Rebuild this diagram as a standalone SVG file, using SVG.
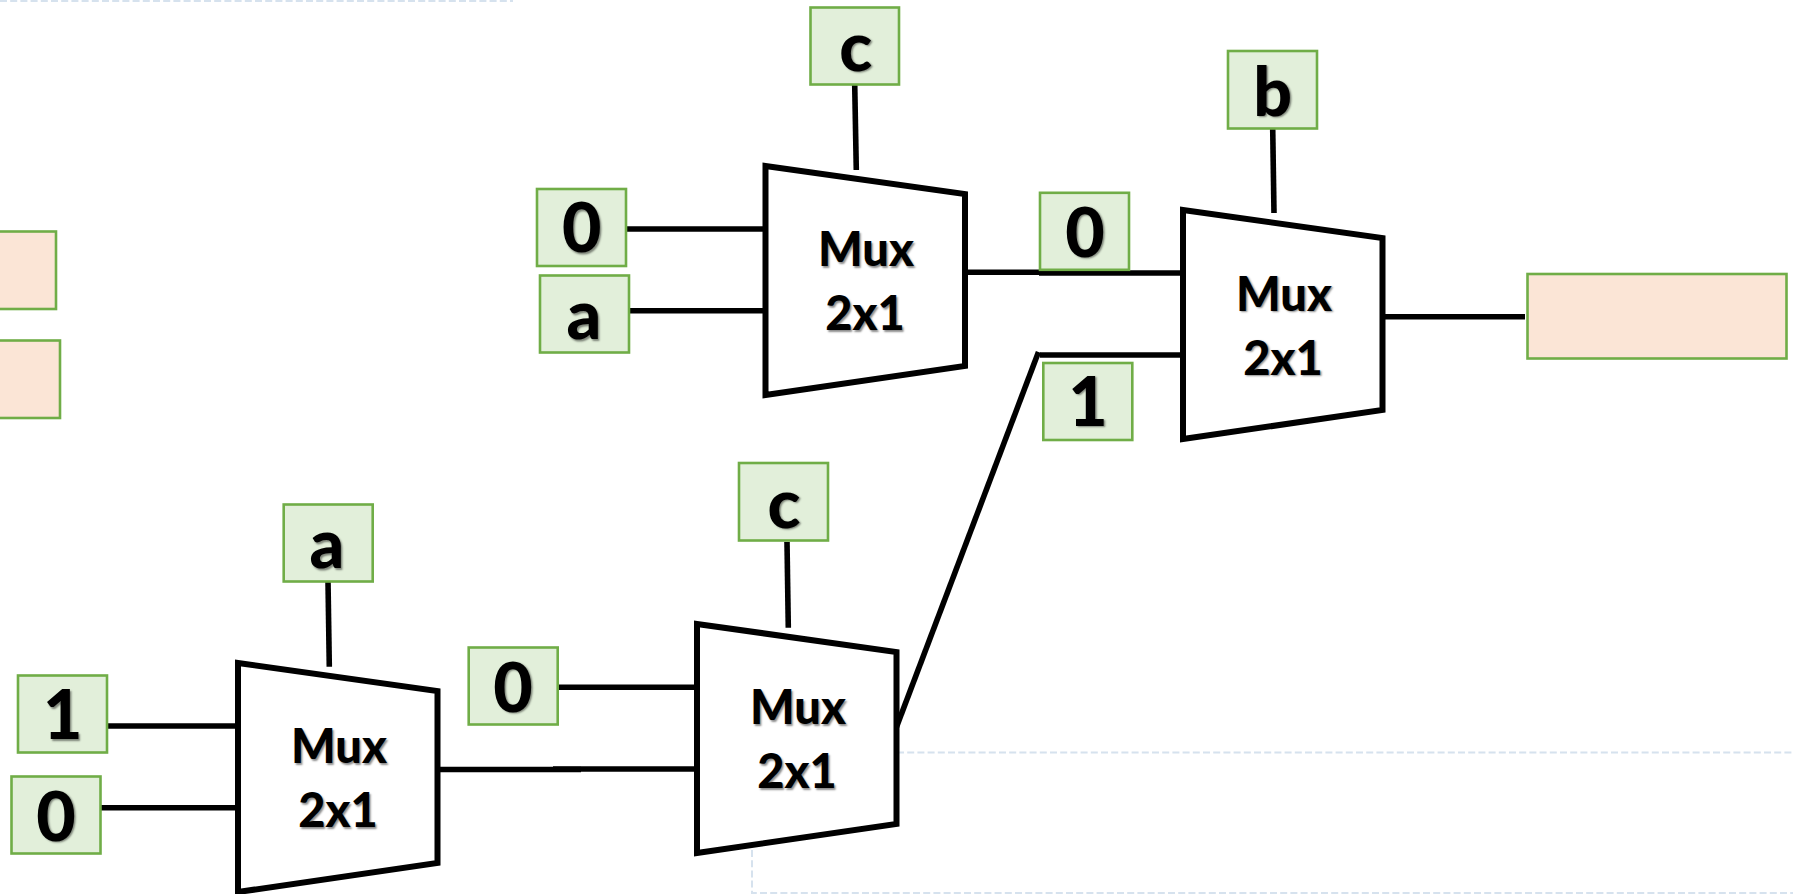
<svg xmlns="http://www.w3.org/2000/svg" width="1793" height="894" viewBox="0 0 1793 894">
  <style>
    .bg { fill: #ffffff; }
    .dash { fill: none; stroke: #D6E2EE; stroke-width: 2; stroke-dasharray: 7 3.2; }
    .in { fill: #E2EFDA; stroke: #70AD47; stroke-width: 2.6; }
    .out { fill: #FBE5D6; stroke: #70AD47; stroke-width: 2.6; }
    .mux { fill: #ffffff; stroke: #000000; stroke-width: 6; stroke-linejoin: miter; }
    .wire { fill: none; stroke: #000000; stroke-width: 5.6; stroke-linecap: butt; }
    text { font-family: Lato, "Liberation Sans", sans-serif; font-weight: 900; fill: #000000; text-anchor: middle; text-shadow: 1.5px 1.5px 2px rgba(0,0,0,0.45); }
    .big { font-size: 68px; }
    .small { font-size: 47px; }
  </style>
  <rect class="bg" x="0" y="0" width="1793" height="894"/>
  <g id="frame">
    <path class="dash" d="M0 1H513"/>
    <path class="dash" d="M897 752.5H1793"/>
    <path class="dash" d="M752 850V893H1793"/>
  </g>
  <g id="connectors">
    <path class="wire" d="M854.7 84L856.3 170"/>
    <path class="wire" d="M627 229H766"/>
    <path class="wire" d="M630 310.7H766"/>
    <path class="wire" d="M967 272.3H1108"/>
    <path class="wire" d="M1039 273H1183"/>
    <path class="wire" d="M1040 355H1183"/>
    <path class="wire" d="M896.5 727L1038.5 352"/>
    <path class="wire" d="M1272.7 128L1274 213"/>
    <path class="wire" d="M1385 316.7H1525"/>
    <path class="wire" d="M328 581L329.3 666.7"/>
    <path class="wire" d="M108 726H238"/>
    <path class="wire" d="M101 807.7H238"/>
    <path class="wire" d="M440 769.5H581"/>
    <path class="wire" d="M553 769H697"/>
    <path class="wire" d="M559 687.3H697"/>
    <path class="wire" d="M787 542L788.3 627.7"/>
  </g>
  <g id="mux-top"><polygon class="mux" points="765.5,166 965,194 965,366 765.5,395"/><text class="small" x="866" y="266">Mux</text><text class="small" x="865" y="330">2x1</text></g>
  <g id="mux-right"><polygon class="mux" points="1183,210 1382.5,238 1382.5,410 1183,439"/><text class="small" x="1284" y="310.5">Mux</text><text class="small" x="1283" y="374.5">2x1</text></g>
  <g id="mux-left"><polygon class="mux" points="238,663 437.5,691 437.5,863 238,892"/><text class="small" x="339" y="763">Mux</text><text class="small" x="338" y="827">2x1</text></g>
  <g id="mux-mid"><polygon class="mux" points="697,624 896.5,652 896.5,824 697,853"/><text class="small" x="798" y="724">Mux</text><text class="small" x="797" y="788">2x1</text></g>
  <g id="input-c-top"><rect class="in" x="810.5" y="7.5" width="88.5" height="77"/><text class="big" x="855.7" y="70.7">c</text></g>
  <g id="input-0-top"><rect class="in" x="537" y="189" width="89" height="77"/><text class="big" x="581.7" y="252">0</text></g>
  <g id="input-a-top"><rect class="in" x="540" y="275.5" width="89" height="77"/><text class="big" x="584" y="339">a</text></g>
  <g id="input-b"><rect class="in" x="1228" y="51" width="89" height="77.5"/><text class="big" x="1272.7" y="115.7">b</text></g>
  <g id="input-0-right"><rect class="in" x="1040" y="192.8" width="89" height="77"/><text class="big" x="1085" y="256.7">0</text></g>
  <g id="input-1-right"><rect class="in" x="1043.3" y="363" width="89" height="77"/><text class="big" x="1088" y="425.7">1</text></g>
  <g id="input-a-left"><rect class="in" x="283.7" y="504.5" width="89" height="77"/><text class="big" x="327" y="568">a</text></g>
  <g id="input-1-left"><rect class="in" x="18" y="675.5" width="89" height="77"/><text class="big" x="62.7" y="739">1</text></g>
  <g id="input-0-left"><rect class="in" x="11.5" y="776.5" width="89" height="77"/><text class="big" x="56" y="840.7">0</text></g>
  <g id="input-0-mid"><rect class="in" x="468.7" y="647.5" width="89" height="77"/><text class="big" x="513" y="711.7">0</text></g>
  <g id="input-c-mid"><rect class="in" x="739" y="463" width="89" height="77.5"/><text class="big" x="784" y="527.7">c</text></g>
  <g id="output-main"><rect class="out" x="1527.5" y="274" width="259" height="84.5"/></g>
  <g id="output-left-1"><rect class="out" x="-4" y="231.5" width="60" height="77.5"/></g>
  <g id="output-left-2"><rect class="out" x="-4" y="340.5" width="64" height="77.5"/></g>
</svg>
